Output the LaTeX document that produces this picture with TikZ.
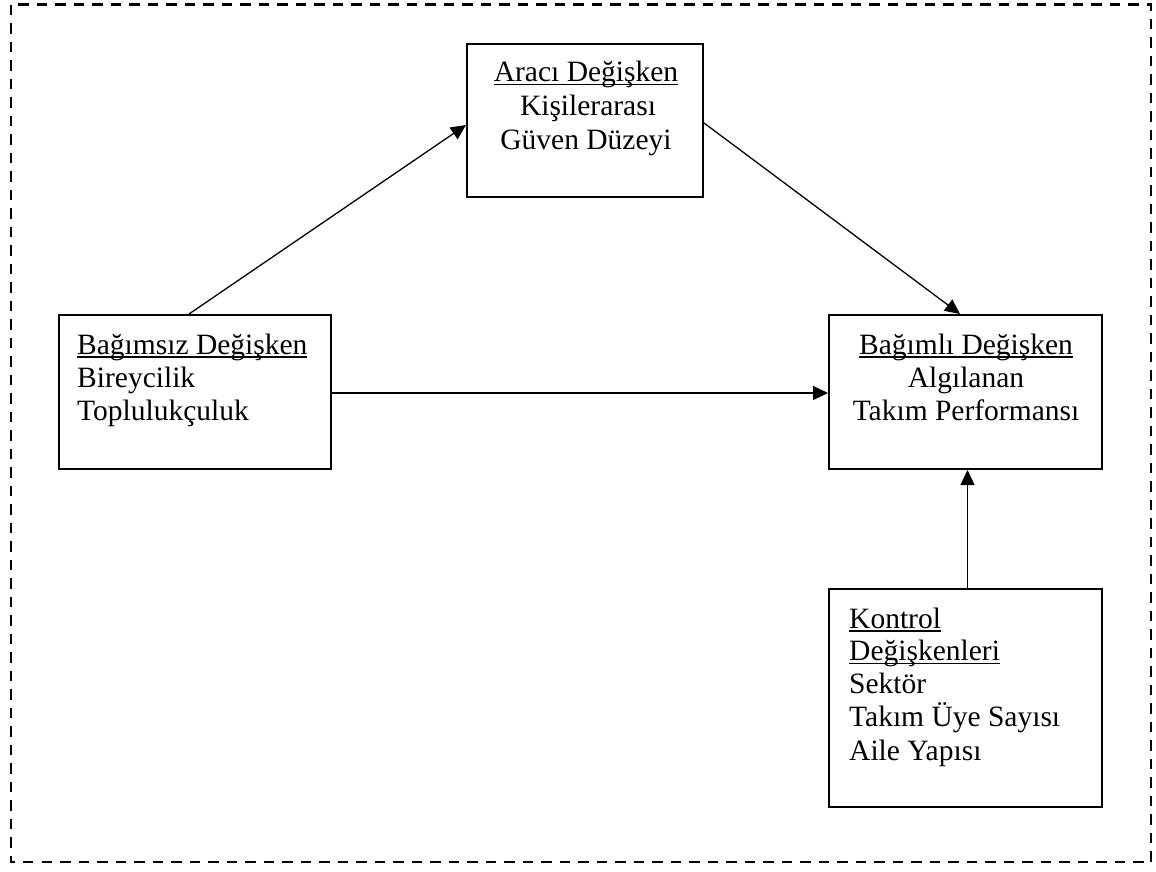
\documentclass[tikz,border=0pt]{standalone}
\usepackage{fontspec}
\setmainfont{Liberation Serif}
\usetikzlibrary{arrows.meta}
\newcommand\myul[1]{\setbox0\hbox{#1}\rlap{\rule[-3.6pt]{\wd0}{1.8pt}}\box0}
\tikzset{
  box/.style={draw, line width=2pt, inner sep=0pt, fill=white},
  txt/.style={inner sep=0pt, font=\fontsize{29.5}{33}\selectfont},
  conn/.style={line width=1.3pt, -{Triangle[length=15pt,width=14pt]}},
  frame/.style={line width=2.6pt, dash pattern=on 10.5pt off 8pt}
}
\begin{document}
\begin{tikzpicture}[x=1pt,y=-1pt]
\useasboundingbox (0,0) rectangle (1156,871);
\fill[white] (0,0) rectangle (1156,871);
\draw[frame] (11,4.5) rectangle (1151,862);
% boxes
\node[box, minimum width=236pt, minimum height=153pt] (med) at (585,120.5) {};
\node[box, minimum width=272pt, minimum height=154pt] (ind) at (195,392) {};
\node[box, minimum width=273pt, minimum height=154pt] (dep) at (965.5,392) {};
\node[box, minimum width=273pt, minimum height=218pt] (ctrl) at (965.5,698) {};
% texts
\node[txt, anchor=base] (m1) at (586,81.7) {\myul{Aracı Değişken}};
\node[txt, anchor=base] (m2) at (588,115.5) {Kişilerarası};
\node[txt, anchor=base] (m3) at (586,149.3) {Güven Düzeyi};
\node[txt, anchor=base west] (i1) at (77,354) {\myul{Bağımsız Değişken}};
\node[txt, anchor=base west] (i2) at (77,387) {Bireycilik};
\node[txt, anchor=base west] (i3) at (77,420) {Toplulukçuluk};
\node[txt, anchor=base] (d1) at (966,354) {\myul{Bağımlı Değişken}};
\node[txt, anchor=base] (d2) at (966,387) {Algılanan};
\node[txt, anchor=base] (d3) at (966,420) {Takım Performansı};
\node[txt, anchor=base west] (c1) at (849,628.3) {\myul{Kontrol}};
\node[txt, anchor=base west] (c2) at (849,660.7) {\myul{Değişkenleri}};
\node[txt, anchor=base west] (c3) at (849,693.3) {Sektör};
\node[txt, anchor=base west] (c4) at (849,726.7) {Takım Üye Sayısı};
\node[txt, anchor=base west] (c5) at (849,760) {Aile Yapısı};
% connectors
\draw[conn] ([xshift=-6pt]ind.north) -- ([yshift=-4.5pt]med.west);
\draw[conn] ([yshift=-2.5pt]med.east) -- ([xshift=-5.5pt]dep.north);
\draw[conn] ([yshift=-1pt]ind.east) -- ([yshift=-1pt]dep.west);
\draw[conn] ([xshift=2pt]ctrl.north) -- ([xshift=2pt]dep.south);
\end{tikzpicture}
\end{document}
